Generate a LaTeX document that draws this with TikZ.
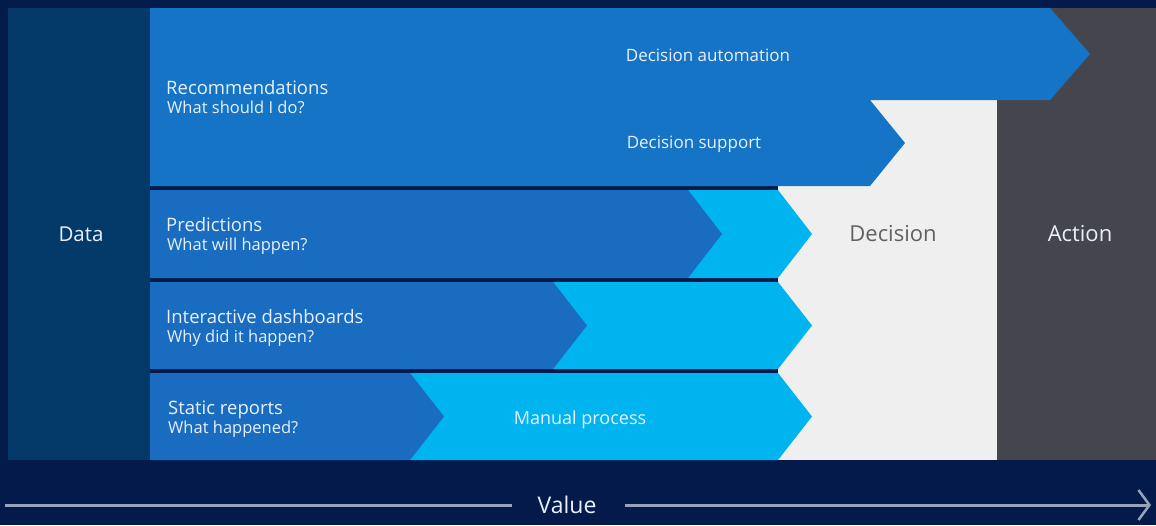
\documentclass[tikz,border=0pt]{standalone}
\usepackage{fontspec}
\setmainfont{Open Sans}
\usetikzlibrary{calc}
\usetikzlibrary{arrows.meta}
\definecolor{navybg}{RGB}{3,26,74}
\definecolor{datacol}{RGB}{4,58,106}
\definecolor{recblue}{RGB}{21,116,198}
\definecolor{bandblue}{RGB}{26,108,192}
\definecolor{lightblue}{RGB}{0,180,240}
\definecolor{decgrey}{RGB}{239,239,239}
\definecolor{actgrey}{RGB}{69,69,78}
\definecolor{textwhite}{RGB}{232,241,251}
\definecolor{valgrey}{RGB}{150,163,186}
\tikzstyle{titletext} = [text=textwhite, anchor=base west, inner sep=0, font=\fontsize{18.5}{22}\selectfont]
\tikzstyle{subtext} = [text=textwhite, anchor=base west, inner sep=0, font=\fontsize{16.5}{19}\selectfont]
\tikzstyle{steptext} = [text=textwhite, inner sep=0, font=\fontsize{17}{20}\selectfont]
\tikzstyle{coltext} = [inner sep=0, font=\fontsize{22}{26}\selectfont]
\tikzstyle{valueline} = [draw=valgrey, line width=3pt]

\begin{document}
\begin{tikzpicture}[x=1pt, y=-1pt]
    \fill[navybg] (0,0) rectangle (1156,525);
    \useasboundingbox (0,0) rectangle (1156,525);

    % columns
    \fill[datacol] (8,8) rectangle (150,460);
    \fill[actgrey] (997,8) rectangle (1156,460);
    \fill[decgrey] (778,100) rectangle (997,460);

    % recommendations
    \fill[recblue] (150,8) -- (1050,8) -- (1090,54) -- (1050,100) -- (870,100)
        -- (905,143) -- (870,186) -- (150,186) -- cycle;

    % predictions
    \fill[lightblue] (688,190) -- (778,190) -- (812,234) -- (778,278) -- (688,278) -- cycle;
    \fill[bandblue] (150,190) -- (688,190) -- (722,234) -- (688,278) -- (150,278) -- cycle;

    % interactive dashboards
    \fill[lightblue] (553,282) -- (778,282) -- (812,325.5) -- (778,369) -- (553,369) -- cycle;
    \fill[bandblue] (150,282) -- (553,282) -- (587,325.5) -- (553,369) -- (150,369) -- cycle;

    % static reports
    \fill[lightblue] (410,373) -- (778,373) -- (812,416.5) -- (778,460) -- (410,460) -- cycle;
    \fill[bandblue] (150,373) -- (410,373) -- (444,416.5) -- (410,460) -- (150,460) -- cycle;

    % labels
    \node[coltext, text=textwhite, font=\fontsize{20.5}{24}\selectfont] (data) at (81,234) {Data};
    \node[coltext, text=black!62] (decision) at (893,234) {Decision};
    \node[coltext, text=textwhite] (action) at (1080,234) {Action};

    \node[titletext] (rec) at (166,94) {Recommendations};
    \node[subtext] (rec_q) at (167,113) {What should I do?};
    \node[titletext] (pred) at (166,231) {Predictions};
    \node[subtext] (pred_q) at (167,250) {What will happen?};
    \node[titletext] (dash) at (166,323) {Interactive dashboards};
    \node[subtext] (dash_q) at (167,342) {Why did it happen?};
    \node[titletext] (static) at (168,414) {Static reports};
    \node[subtext] (static_q) at (168,433) {What happened?};

    \node[steptext] (auto) at (708,55) {Decision automation};
    \node[steptext] (support) at (694,144) {Decision support};
    \node[steptext, font=\fontsize{18}{21}\selectfont] (manual) at (580,420) {Manual process};

    % value axis
    \node[coltext, text=textwhite, font=\fontsize{23}{27}\selectfont] (value) at (567,505) {Value};
    \coordinate (val_start) at (5,505);
    \coordinate (val_end) at (1151,505);
    \draw[valueline] (val_start) -- ($(value.west)+(-25,0)$);
    \draw[valueline, -{Straight Barb[length=11pt, width=30pt, line width=2.5pt]}] ($(value.east)+(28,0)$) -- (val_end);
\end{tikzpicture}
\end{document}
